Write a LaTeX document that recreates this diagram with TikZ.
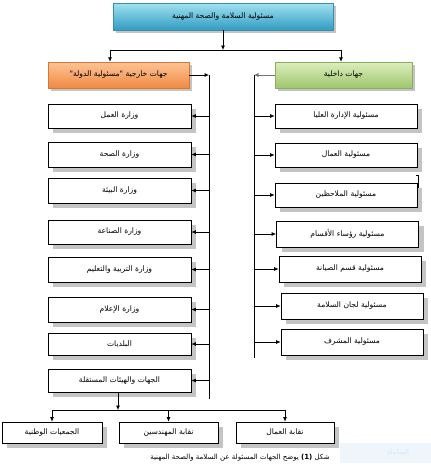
\documentclass[tikz,border=0pt]{standalone}
\usepackage{fontspec}
\newfontfamily\arabicfont[Script=Arabic]{DejaVu Sans}
\TeXXeTstate=1
\usetikzlibrary{arrows.meta,shadows}
\definecolor{shd}{RGB}{196,196,196}
\definecolor{topA}{RGB}{160,226,240}
\definecolor{topB}{RGB}{50,156,194}
\definecolor{topE}{RGB}{60,140,170}
\definecolor{orA}{RGB}{253,196,150}
\definecolor{orB}{RGB}{240,138,66}
\definecolor{orE}{RGB}{215,120,50}
\definecolor{grA}{RGB}{220,238,190}
\definecolor{grB}{RGB}{158,198,108}
\definecolor{grE}{RGB}{140,175,95}
\definecolor{wmk}{RGB}{238,245,251}
\definecolor{wmt}{RGB}{220,232,242}
\newcommand{\ar}[1]{\arabicfont\beginR #1\endR}
\tikzset{
  bx/.style={draw=black, line width=0.7pt, fill=white, inner sep=0pt,
    font=\fontsize{7.6}{9}\selectfont,
    drop shadow={shadow xshift=5pt, shadow yshift=-5pt, fill=shd, opacity=1}},
  hdr/.style={inner sep=0pt, line width=0.5pt, font=\fontsize{7.6}{9}\selectfont,
    drop shadow={shadow xshift=3pt, shadow yshift=-3pt, fill=shd, opacity=1}},
  con/.style={line width=0.7pt, -{Latex[length=4.5pt,width=4pt]}},
  ln/.style={line width=0.7pt}
}
\begin{document}
\begin{tikzpicture}[x=1pt,y=-1pt]
\useasboundingbox (0,0) rectangle (431,467);
% watermark band
\fill[wmk] (340,443) rectangle (431,463);
\node[text=wmt, font=\fontsize{7}{8}\selectfont] (wm) at (398,452) {\ar{الشاملة}};
% top
\node[hdr, draw=topE, top color=topA, bottom color=topB, minimum width=220pt, minimum height=27pt] (top) at (223,16.5) {\ar{مسئولية السلامة والصحة المهنية}};
\node[hdr, draw=orE, top color=orA, bottom color=orB, minimum width=141pt, minimum height=26pt] (ext) at (118.5,75) {\ar{جهات خارجية "مسئولية الدولة"}};
\node[hdr, draw=grE, top color=grA, bottom color=grB, minimum width=137pt, minimum height=26pt] (int) at (343.5,75) {\ar{جهات داخلية}};
\coordinate (tj) at (223,50);
\coordinate (tl) at (110,50);
\coordinate (tr) at (341,50);
\draw[con] (top.south) -- (tj);
\draw[ln] (tl) -- (tr);
\draw[con] (tl) -- (tl |- ext.north);
\draw[con] (tr) -- (tr |- int.north);
% spines
\coordinate (ls) at (209,75);
\coordinate (le) at (209,399);
\coordinate (rs) at (254,75);
\coordinate (re) at (254,358);
\draw[con] (ext.east) -- (ls);
\draw[ln] (ls) -- (le);
\draw[con, draw=black!55] (int.west) -- (rs);
\draw[ln] (rs) -- (re);
% left boxes
\foreach \n/\y/\h/\t in {
  l1/116/24/{وزارة العمل},
  l2/154.5/25/{وزارة الصحة},
  l3/190.5/25/{وزارة البيئة},
  l4/232/24/{وزارة الصناعة},
  l5/269.5/25/{وزارة التربية والتعليم},
  l6/309.5/25/{وزارة الإعلام},
  l7/344/22/{البلديات},
  l8/380.5/23/{الجهات والهيئات المستقلة}}{
  \node[bx, minimum width=143pt, minimum height=\h pt] (\n) at (119.5,\y) {\ar{\t}};
  \coordinate (\n c) at (209,\y);
  \draw[con] (\n c) -- (\n.east);
}
% right boxes
\foreach \n/\x/\y/\h/\t in {
  r1/346/116/24/{مسئولية الإدارة العليا},
  r2/346/155/24/{مسئولية العمال},
  r3/346/195/24/{مسئولية الملاحظين},
  r4/347.5/234/26/{مسئولية رؤساء الأقسام},
  r5/350/269/26/{مسئولية قسم الصيانة},
  r6/352/306/26/{مسئولية لجان السلامة},
  r7/352/342/26/{مسئولية المشرف}}{
  \node[bx, minimum width=142pt, minimum height=\h pt] (\n) at (\x,\y) {\ar{\t}};
  \coordinate (\n c) at (254,\y);
  \draw[con] (\n c) -- (\n.west);
}
\draw[ln] (416,175) -- (418,175) -- (418,188);
% bottom
\node[bx, minimum width=100pt, minimum height=21pt] (b1) at (52,432.5) {\ar{الجمعيات الوطنية}};
\node[bx, minimum width=99pt, minimum height=21pt] (b2) at (168.5,432.5) {\ar{نقابة المهندسين}};
\node[bx, minimum width=98pt, minimum height=21pt] (b3) at (285,432.5) {\ar{نقابة العمال}};
\coordinate (bj) at (118,410);
\coordinate (bl) at (52,410);
\coordinate (bm) at (168.5,410);
\coordinate (br) at (285,410);
\draw[con] (l8.south -| bj) -- (bj);
\draw[ln] (bl) -- (br);
\draw[con] (bl) -- (b1.north);
\draw[con] (bm) -- (b2.north);
\draw[con] (br) -- (b3.north);
% caption
\node[font=\fontsize{7}{8}\selectfont] (cap) at (240,458) {\arabicfont\beginR شكل \beginL{}\textbf{(1)}\endL{} يوضح الجهات المسئولة عن السلامة والصحة المهنية\endR};
\end{tikzpicture}
\end{document}
